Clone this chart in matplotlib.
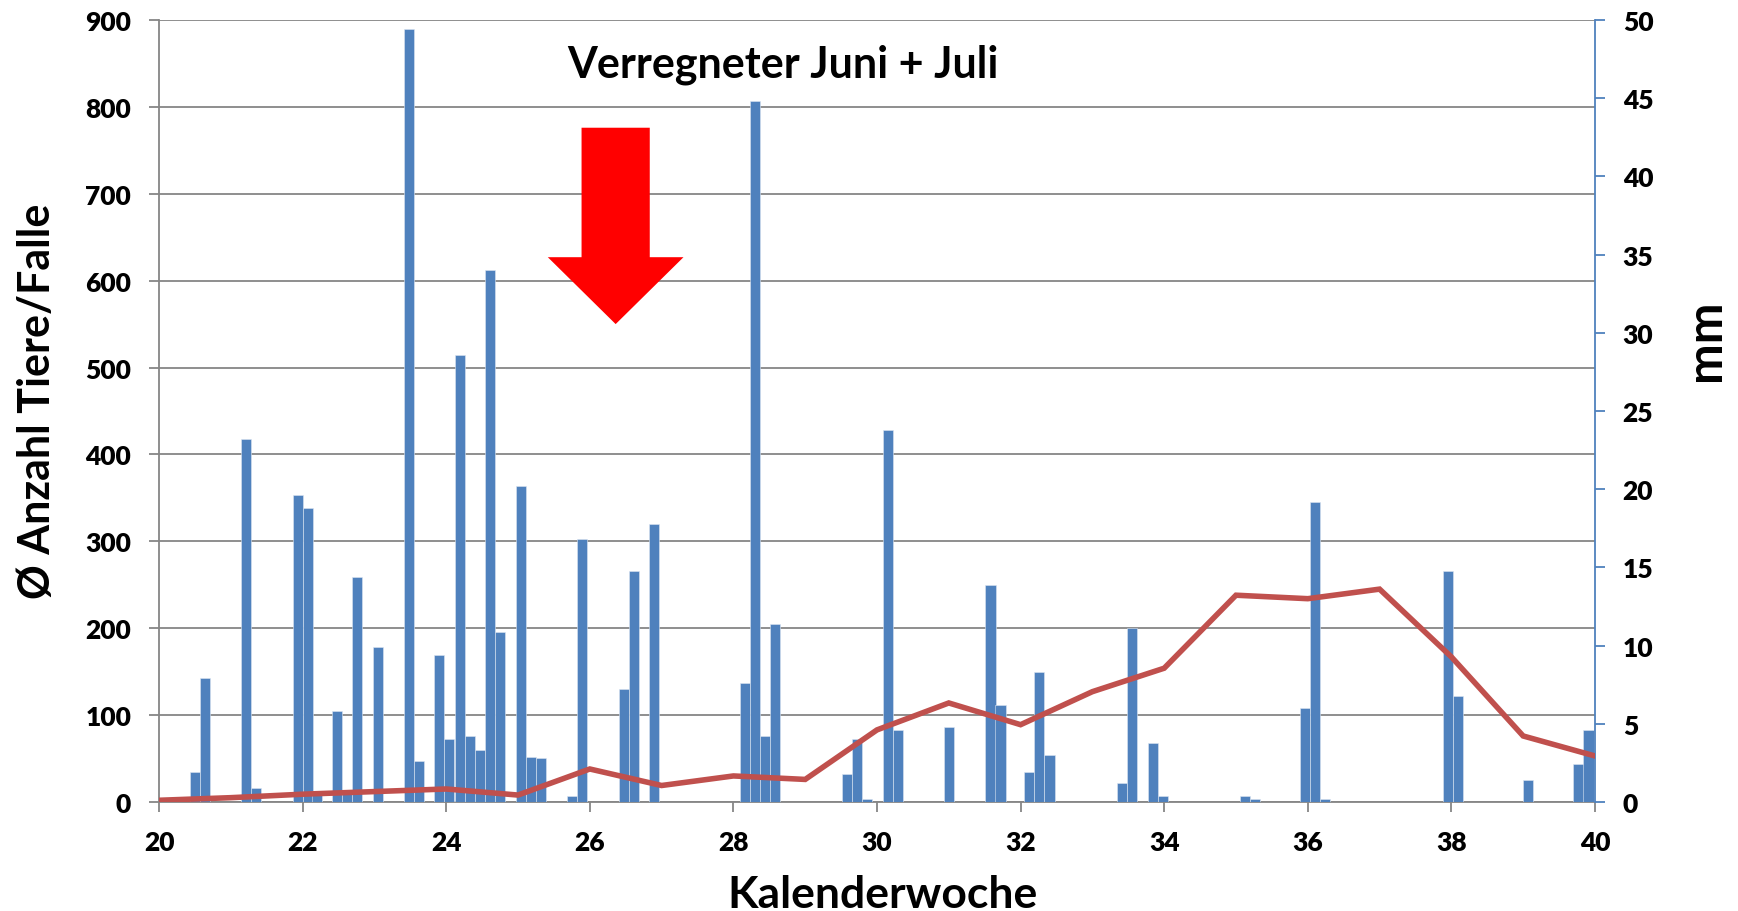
import matplotlib
matplotlib.use('Agg')
import matplotlib.pyplot as plt
import numpy as np

plt.rcParams['font.family'] = ['Lato', 'DejaVu Sans']
plt.rcParams['font.weight'] = 'bold'

# daily rain (mm), left edge of each bar in Kalenderwoche units
rain_x = [20.43, 20.57, 21.14, 21.28, 21.86, 22.00, 22.13, 22.41, 22.55, 22.69,
          22.98, 23.41, 23.55, 23.83, 23.97, 24.125, 24.26, 24.40, 24.54, 24.68,
          24.97, 25.11, 25.25, 25.68, 25.82, 26.40, 26.54, 26.82, 28.09, 28.23,
          28.37, 28.51, 29.51, 29.65, 29.79, 30.08, 30.22, 30.93, 31.51, 31.65,
          32.05, 32.19, 32.33, 33.34, 33.48, 33.77, 33.91, 35.05, 35.19, 35.89,
          36.03, 36.17, 37.88, 38.02, 39.00, 39.70, 39.84]
rain_mm = [1.9, 7.9, 23.2, 0.9, 19.6, 18.8, 0.7, 5.8, 0.7, 14.4,
           9.9, 49.4, 2.6, 9.4, 4.0, 28.6, 4.2, 3.3, 34.0, 10.9,
           20.2, 2.9, 2.8, 0.4, 16.8, 7.2, 14.8, 17.8, 7.6, 44.8,
           4.2, 11.4, 1.8, 4.0, 0.2, 23.8, 4.6, 4.8, 13.9, 6.2,
           1.9, 8.3, 3.0, 1.2, 11.1, 3.8, 0.4, 0.4, 0.2, 6.0,
           19.2, 0.2, 14.8, 6.8, 1.4, 2.4, 4.6]

# mean catch per trap per week
weeks = list(range(20, 41))
tiere = [2, 5, 9, 12, 15, 8, 38, 19, 30, 26, 83, 114, 89, 127, 154, 238, 234, 245, 167, 76, 53]

blue = '#4F81BD'
red = '#C0504D'
grey = '#868686'

fig = plt.figure(figsize=(17.38, 9.12), dpi=100)
ax = fig.add_axes([0.0915, 0.1195, 0.8262, 0.8575])

ax.set_xlim(20, 40)
ax.set_ylim(0, 900)
ax.set_xticks(range(20, 41, 2))
ax.set_yticks(range(0, 901, 100))
ax.yaxis.grid(True, color=grey, linewidth=1.3)
ax.set_axisbelow(True)
for s in ['top', 'right']:
    ax.spines[s].set_visible(False)
for s in ['left', 'bottom']:
    ax.spines[s].set_color(grey)
    ax.spines[s].set_linewidth(1.3)
ax.tick_params(axis='both', direction='out', length=7, width=1.3, color=grey,
               labelsize=19, pad=13)
for lab in ax.get_xticklabels() + ax.get_yticklabels():
    lab.set_fontweight('heavy')
ax.set_ylabel('Ø Anzahl Tiere/Falle', fontsize=31, fontweight='bold',
              ha='center', va='center')
ax.yaxis.set_label_coords(-0.085, 0.514)
ax.set_xlabel('Kalenderwoche', fontsize=32, fontweight='bold',
              ha='center', va='center')
ax.xaxis.set_label_coords(0.504, -0.118)

ax2 = ax.twinx()
ax2.bar(rain_x, rain_mm, width=1/7, align='edge', color=blue,
        edgecolor='#DCE6F2', linewidth=0.4)
ax2.set_ylim(0, 50)
ax2.set_yticks(range(0, 51, 5))
for s in ['top', 'left', 'bottom']:
    ax2.spines[s].set_visible(False)
ax2.spines['right'].set_color(blue)
ax2.spines['right'].set_linewidth(1.3)
ax2.tick_params(axis='y', direction='out', length=7, width=1.3, color=blue,
                labelsize=19, pad=13)
for lab in ax2.get_yticklabels():
    lab.set_fontweight('heavy')
ax2.set_ylabel('mm', fontsize=35, fontweight='bold', ha='center', va='center')
ax2.yaxis.set_label_coords(1.077, 0.592)

ax3 = ax.twinx()
ax3.set_ylim(0, 900)
ax3.axis('off')
ax3.plot(weeks, tiere, color=red, linewidth=4, solid_joinstyle='miter')
ax3.set_xlim(20, 40)

ax3.arrow(26.36, 776, 0, -226, width=0.95, head_width=1.89, head_length=77,
          length_includes_head=True, color='#FF0000', linewidth=0)
ax3.text(28.69, 850, 'Verregneter Juni + Juli', fontsize=31, fontweight='bold',
         ha='center', va='center')

fig.savefig('out.png', dpi=100)
